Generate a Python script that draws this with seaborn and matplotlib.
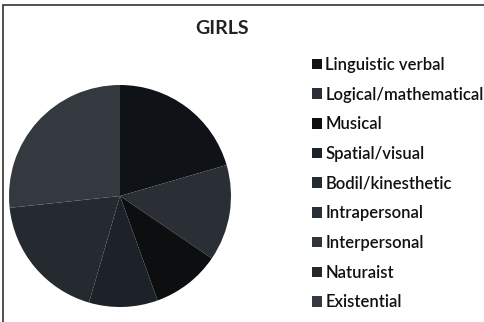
import matplotlib
matplotlib.use("Agg")
import matplotlib.pyplot as plt
import matplotlib.patches as mpatches
import seaborn as sns

categories = ["Linguistic verbal", "Logical/mathematical", "Musical", "Spatial/visual",
              "Bodil/kinesthetic", "Intrapersonal", "Interpersonal", "Naturaist", "Existential"]
values = [20.5, 14.0, 10.0, 10.0, 18.8, 0.0, 0.0, 0.0, 26.7]
colors = ["#0f1317", "#2a2f35", "#0c0e10", "#1c2228", "#252a30",
          "#2a2f35", "#30353a", "#24272b", "#33393f"]
title = "GIRLS"

sns.set_theme(style="white")
plt.rcParams['font.family'] = ['Lato', 'DejaVu Sans']

W, H = 485, 322
fig = plt.figure(figsize=(W / 100, H / 100), dpi=100)
fig.patch.set_facecolor("white")

# frame of the screenshot
fig.add_artist(mpatches.Rectangle((3 / W, -0.1), 1.2, 1 - 5 / H + 0.1, transform=fig.transFigure,
                                  fill=False, edgecolor="#333333", linewidth=1.2))

cx, cy, r = 120, 196, 111
ax = fig.add_axes([(cx - r) / W, (H - cy - r) / H, 2 * r / W, 2 * r / H])
wedges, _ = ax.pie(values, colors=colors, startangle=90, counterclock=False,
                   wedgeprops=dict(linewidth=0))
ax.set_xlim(-1, 1)
ax.set_ylim(-1, 1)
ax.set_aspect("auto")
ax.axis("off")

fig.text(222 / W, 1 - 28 / H, title, ha="center", va="center", fontsize=14,
         fontweight="bold", color="#222222")

leg = fig.legend(wedges, categories, loc="upper left",
                 bbox_to_anchor=(312 / W, 1 - 57 / H), frameon=False,
                 fontsize=12, handlelength=0.6, handleheight=0.6, handletextpad=0.2,
                 labelspacing=0.82, borderaxespad=0, borderpad=0)
for t in leg.get_texts():
    t.set_color("#111111")
    t.set_fontweight("semibold")

fig.savefig("out.png", dpi=100, facecolor="white")
